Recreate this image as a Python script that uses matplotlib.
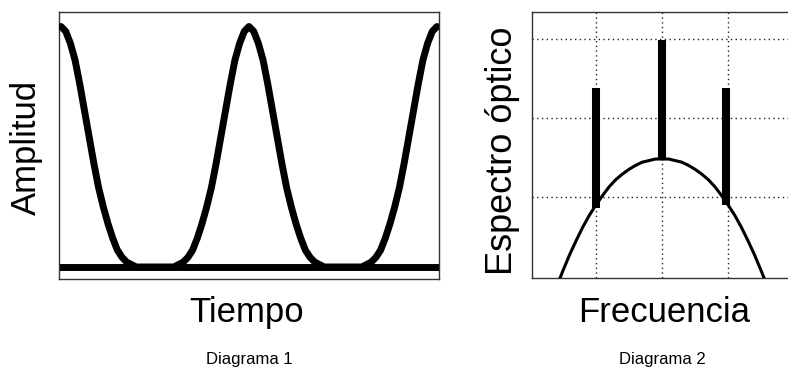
import matplotlib
matplotlib.use("Agg")
import matplotlib.pyplot as plt

plt.rcParams['font.family'] = ['Liberation Sans', 'DejaVu Sans']

# --- Diagrama 1: pulse train in time ---
tiempo = [0.000, 0.025, 0.050, 0.075, 0.100, 0.125, 0.150, 0.175, 0.200, 0.225,
          0.250, 0.275, 0.300, 0.325, 0.350, 0.375, 0.400, 0.425, 0.450, 0.475,
          0.500, 0.525, 0.550, 0.575, 0.600, 0.625, 0.650, 0.675, 0.700, 0.725,
          0.750, 0.775, 0.800, 0.825, 0.850, 0.875, 0.900, 0.925, 0.950, 0.975,
          1.000, 1.025, 1.050, 1.075, 1.100, 1.125, 1.150, 1.175, 1.200, 1.225,
          1.250, 1.275, 1.300, 1.325, 1.350, 1.375, 1.400, 1.425, 1.450, 1.475,
          1.500, 1.525, 1.550, 1.575, 1.600, 1.625, 1.650, 1.675, 1.700, 1.725,
          1.750, 1.775, 1.800, 1.825, 1.850, 1.875, 1.900, 1.925, 1.950, 1.975,
          2.000]
amplitud = [1.00, 0.98, 0.93, 0.86, 0.76, 0.65, 0.54, 0.43, 0.33, 0.25,
            0.18, 0.12, 0.07, 0.04, 0.02, 0.01, 0.00, 0.00, 0.00, 0.00,
            0.00, 0.00, 0.00, 0.00, 0.00, 0.01, 0.02, 0.04, 0.07, 0.12,
            0.18, 0.25, 0.33, 0.43, 0.54, 0.65, 0.76, 0.86, 0.93, 0.98,
            1.00, 0.98, 0.93, 0.86, 0.76, 0.65, 0.54, 0.43, 0.33, 0.25,
            0.18, 0.12, 0.07, 0.04, 0.02, 0.01, 0.00, 0.00, 0.00, 0.00,
            0.00, 0.00, 0.00, 0.00, 0.00, 0.01, 0.02, 0.04, 0.07, 0.12,
            0.18, 0.25, 0.33, 0.43, 0.54, 0.65, 0.76, 0.86, 0.93, 0.98,
            1.00]

# --- Diagrama 2: gain envelope and spectral lines ---
env_freq = [-1.6, -1.5, -1.4, -1.3, -1.2, -1.1, -1.0, -0.9, -0.8, -0.7, -0.6,
            -0.5, -0.4, -0.3, -0.2, -0.1, 0.0, 0.1, 0.2, 0.3, 0.4, 0.5, 0.6,
            0.7, 0.8, 0.9, 1.0, 1.1, 1.2, 1.3, 1.4, 1.5, 1.6]
env_gain = [-0.14, 0.07, 0.27, 0.45, 0.62, 0.77, 0.90, 1.02, 1.13, 1.22, 1.29,
            1.35, 1.40, 1.44, 1.46, 1.48, 1.48, 1.48, 1.46, 1.44, 1.40, 1.35, 1.29,
            1.22, 1.13, 1.02, 0.90, 0.77, 0.62, 0.45, 0.27, 0.07, -0.14]

line_freq = [-1.0, 0.0, 0.97]
line_bottom = [0.86, 1.48, 0.90]
line_top = [2.38, 2.98, 2.38]

grid_freq = [-1, 0, 1]
grid_level = [1, 2, 3]

fig = plt.figure(figsize=(7.88, 3.69), dpi=100)

# left panel
ax1 = fig.add_axes([59 / 788, 1 - 279 / 369, 380 / 788, 267.5 / 369])
ax1.plot(tiempo, amplitud, color='black', lw=5,
         solid_capstyle='round', solid_joinstyle='round', zorder=3)
ax1.axhline(0, color='black', lw=5, zorder=2)
ax1.set_xlim(-0.0106, 2.0106)
ax1.set_ylim(-0.05, 1.0625)
ax1.set_xticks([])
ax1.set_yticks([])
for s in ax1.spines.values():
    s.set_color('#333333')
    s.set_linewidth(1.0)

# right panel (runs off the right edge of the figure)
ax2 = fig.add_axes([532 / 788, 1 - 278 / 369, 268 / 788, 266 / 369])
for gx in grid_freq:
    ax2.axvline(gx, color='#222222', lw=1.0, ls=(0, (1, 2.4)), zorder=1)
for gy in grid_level:
    ax2.axhline(gy, color='#222222', lw=1.0, ls=(0, (1, 2.4)), zorder=1)
ax2.plot(env_freq, env_gain, color='black', lw=2.2, zorder=3)
ax2.vlines(line_freq, line_bottom, line_top, color='black', lw=5.8,
           capstyle='butt', zorder=4)
ax2.set_xlim(-1.97, 2.09)
ax2.set_ylim(-0.025, 3.34)
ax2.set_xticks([])
ax2.set_yticks([])
for s in ax2.spines.values():
    s.set_color('#333333')
    s.set_linewidth(1.0)

# axis labels and captions
fig.text(26 / 788, 1 - 147 / 369, 'Amplitud', rotation=90, fontsize=25,
         ha='center', va='center')
fig.text(503 / 788, 1 - 151 / 369, 'Espectro óptico', rotation=90, fontsize=26,
         ha='center', va='center')
fig.text(247 / 788, 1 - 322 / 369, 'Tiempo', fontsize=25, ha='center', va='baseline')
fig.text(664 / 788, 1 - 322 / 369, 'Frecuencia', fontsize=25, ha='center', va='baseline')
fig.text(249 / 788, 1 - 364 / 369, 'Diagrama 1', fontsize=12, ha='center', va='baseline')
fig.text(662 / 788, 1 - 364 / 369, 'Diagrama 2', fontsize=12, ha='center', va='baseline')

fig.savefig('out.png', dpi=100)
